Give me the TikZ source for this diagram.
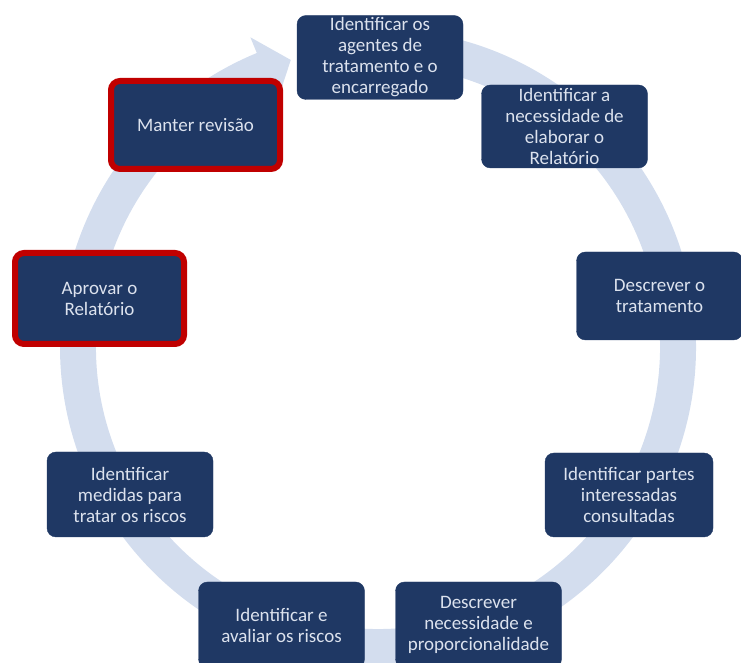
\documentclass[tikz,border=0pt]{standalone}
\usepackage{fontspec}
\setmainfont{Carlito}
\definecolor{navy}{HTML}{1F3864}
\definecolor{anel}{HTML}{D3DDEE}
\definecolor{vermelho}{HTML}{C00000}
\definecolor{texto}{HTML}{DCE2EE}

\begin{document}
\begin{tikzpicture}[x=1pt,y=1pt,
    etapa/.style={draw=navy, fill=navy, rounded corners=9pt, text=texto, align=center,
        inner sep=0pt, minimum width=166pt, minimum height=84pt,
        font=\fontsize{19}{21}\selectfont},
    destaque/.style={etapa, draw=vermelho, line width=6pt, minimum width=169pt}]

    \useasboundingbox (0,0) rectangle (741,663);

    % Circular arrow behind the boxes
    \coordinate (centro) at (378,316);
    \fill[anel] ([shift={(centro)}]95:318) arc[start angle=95, end angle=-247.6, radius=318]
        -- ([shift={(centro)}]-247.6:335) -- ([shift={(centro)}]-253.1:300)
        -- ([shift={(centro)}]-247.6:265) -- ([shift={(centro)}]-247.6:282)
        arc[start angle=-247.6, end angle=95, radius=282] -- cycle;

    % Steps, clockwise from the top
    \node[etapa] (agentes) at (380,605.5) {Identificar os\\agentes de\\tratamento e o\\encarregado};
    \node[etapa, minimum height=83pt] (necessidade) at (564.5,536.5) {Identificar a\\necessidade de\\elaborar o\\Relatório};
    \node[etapa, minimum height=88pt] (tratamento) at (659.5,367) {Descrever o\\tratamento};
    \node[etapa, minimum width=168pt] (partes) at (629,168) {Identificar partes\\interessadas\\consultadas};
    \node[etapa, minimum height=86pt] (proporcionalidade) at (478.5,38) {Descrever\\necessidade e\\proporcionalidade};
    \node[etapa, minimum height=86pt] (riscos) at (281.5,38) {Identificar e\\avaliar os riscos};
    \node[etapa, minimum height=85pt] (medidas) at (130,168.5) {Identificar\\medidas para\\tratar os riscos};

    % Highlighted steps
    \node[destaque, minimum height=91pt] (aprovar) at (99.5,364.5) {Aprovar o\\Relatório};
    \node[destaque, minimum height=88pt] (revisao) at (195.5,538) {Manter revisão};

\end{tikzpicture}
\end{document}
